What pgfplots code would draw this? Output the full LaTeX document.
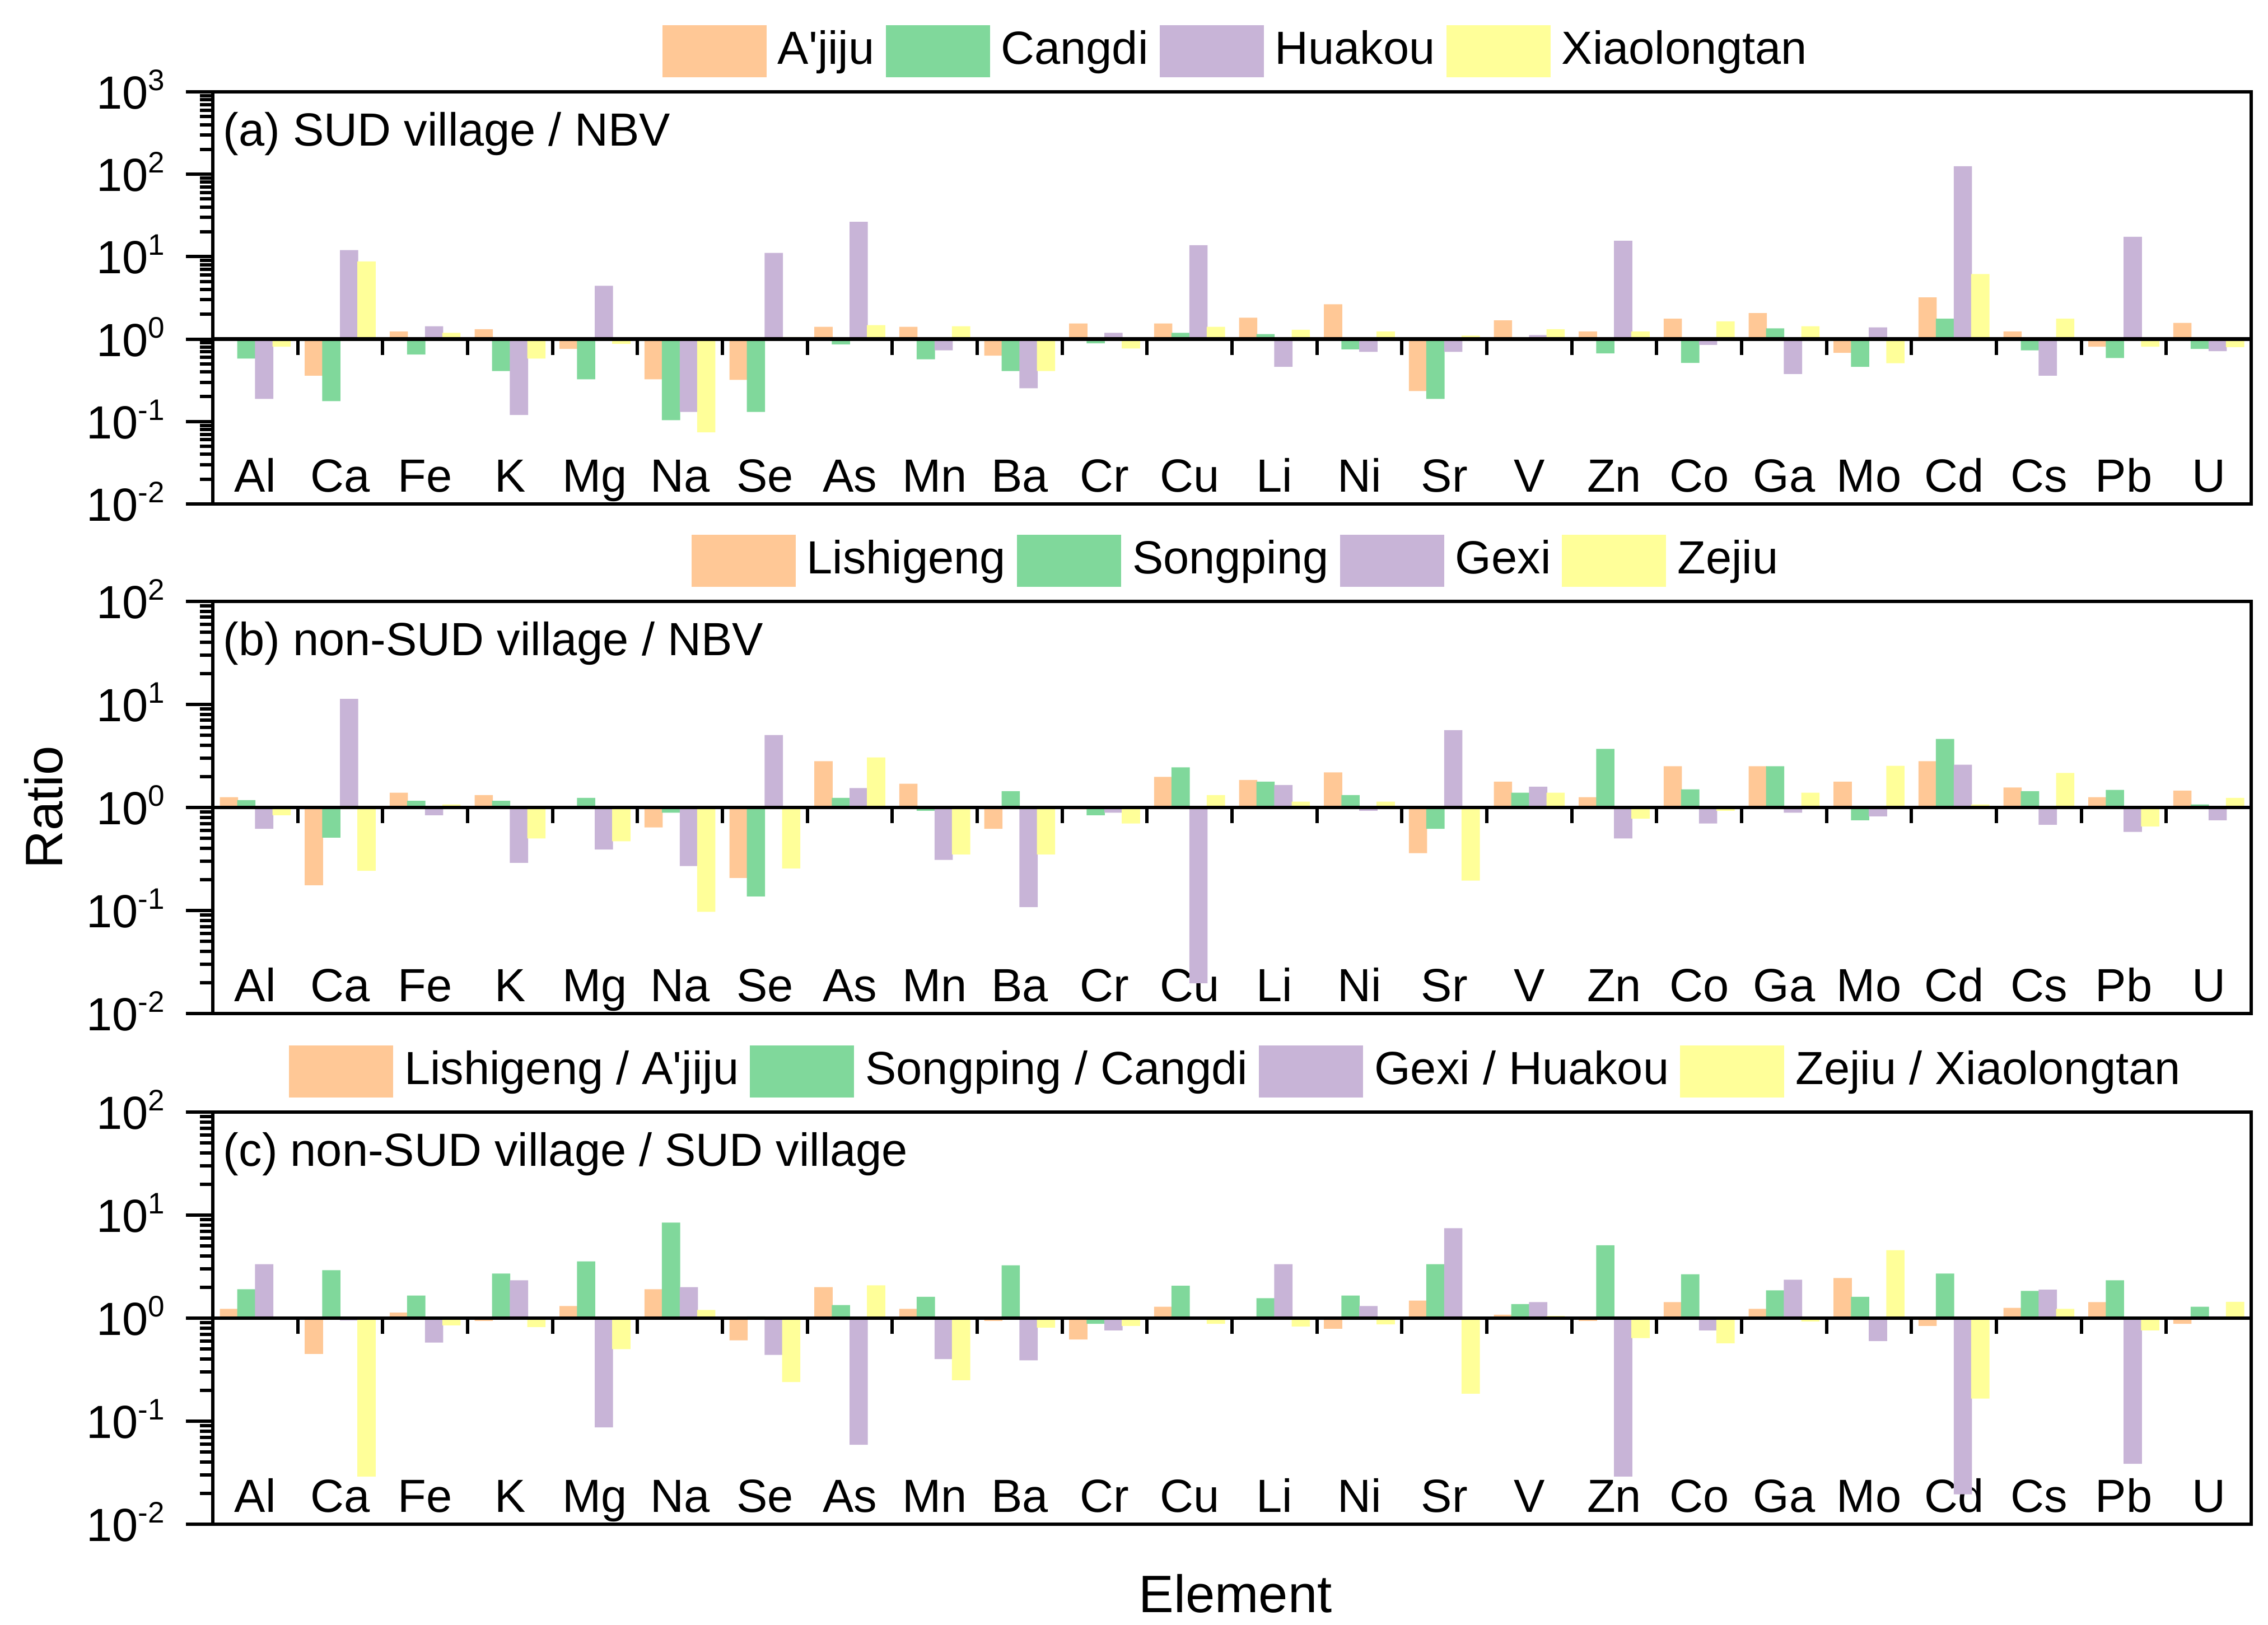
\documentclass[border=0pt]{standalone}
\usepackage{fontspec}
\setmainfont{Liberation Sans}
\usepackage{pgfplots}
\usepackage{pgfplotstable}
\pgfplotsset{compat=1.18}

\definecolor{cO}{HTML}{FFC896}
\definecolor{cG}{HTML}{80D89B}
\definecolor{cP}{HTML}{C8B4D7}
\definecolor{cY}{HTML}{FFFF99}

% columns: index, orange, green, purple, yellow
\pgfplotstableread{
i o g p y
0 1.02 0.58 0.188 0.81
1 0.36 0.177 12.0 8.75
2 1.24 0.65 1.43 1.19
3 1.32 0.41 0.12 0.58
4 0.76 0.325 4.44 0.875
5 0.325 0.104 0.131 0.074
6 0.32 0.131 11.1 1.06
7 1.41 0.86 26.5 1.48
8 1.41 0.57 0.73 1.43
9 0.63 0.41 0.253 0.41
10 1.55 0.89 1.19 0.77
11 1.55 1.19 13.8 1.41
12 1.82 1.15 0.46 1.30
13 2.65 0.75 0.70 1.24
14 0.234 0.188 0.70 1.10
15 1.69 1.0 1.12 1.32
16 1.24 0.67 15.6 1.24
17 1.77 0.515 0.85 1.64
18 2.07 1.35 0.377 1.43
19 0.68 0.46 1.39 0.51
20 3.2 1.77 125 6.16
21 1.24 0.73 0.36 1.77
22 0.81 0.59 17.4 0.81
23 1.57 0.76 0.715 0.80
}\tabA

\pgfplotstableread{
i o g p y
0 1.26 1.18 0.62 0.84
1 0.176 0.51 11.3 0.243
2 1.39 1.16 0.84 1.07
3 1.32 1.16 0.29 0.50
4 1.0 1.24 0.39 0.47
5 0.64 0.89 0.27 0.097
6 0.207 0.137 5.04 0.256
7 2.81 1.24 1.54 3.06
8 1.70 0.93 0.31 0.35
9 0.62 1.44 0.108 0.35
10 0.96 0.84 0.89 0.70
11 1.98 2.45 0.0197 1.32
12 1.85 1.78 1.65 1.14
13 2.19 1.32 0.93 1.14
14 0.36 0.62 5.64 0.195
15 1.78 1.39 1.59 1.39
16 1.26 3.7 0.50 0.78
17 2.51 1.5 0.70 0.93
18 2.51 2.51 0.89 1.39
19 1.78 0.75 0.82 2.54
20 2.81 4.62 2.6 1.07
21 1.56 1.44 0.68 2.16
22 1.26 1.48 0.58 0.655
23 1.46 1.07 0.75 1.24
}\tabB

\pgfplotstableread{
i o g p y
0 1.23 1.91 3.34 1.0
1 0.45 2.92 0.95 0.029
2 1.13 1.66 0.58 0.85
3 0.94 2.71 2.33 0.82
4 1.31 3.56 0.087 0.50
5 1.91 8.45 2.0 1.2
6 0.61 1.04 0.44 0.24
7 2.0 1.34 0.059 2.08
8 1.23 1.61 0.40 0.25
9 0.94 3.26 0.39 0.81
10 0.62 0.88 0.76 0.84
11 1.29 2.06 1.0 0.88
12 1.04 1.56 3.34 0.83
13 0.79 1.66 1.31 0.87
14 1.48 3.34 7.46 0.185
15 1.08 1.37 1.43 1.05
16 0.94 5.1 0.029 0.64
17 1.43 2.67 0.76 0.57
18 1.23 1.86 2.36 0.93
19 2.45 1.61 0.60 4.56
20 0.84 2.71 0.0195 0.166
21 1.26 1.84 1.89 1.23
22 1.43 2.33 0.0386 0.76
23 0.88 1.29 1.04 1.44
}\tabC

\newcommand{\tlab}[1]{10\raisebox{3.3bp}{\fontsize{5.3bp}{6bp}\selectfont #1}}
\newcommand{\fsz}{\fontsize{8.3bp}{10bp}\selectfont}
\newcommand{\swatch}[1]{\fill[fill=#1] (0bp,-4.65bp) rectangle (18.6bp,4.65bp);}

\pgfplotsset{
  mypanel/.style={
    width=364bp, height=73.6bp, scale only axis,
    xmin=-0.5, xmax=23.5, ymin=0.01,
    xtick={0,...,23},
    xticklabels={Al,Ca,Fe,K,Mg,Na,Se,As,Mn,Ba,Cr,Cu,Li,Ni,Sr,V,Zn,Co,Ga,Mo,Cd,Cs,Pb,U},
    x tick style={draw=none},
    xticklabel style={anchor=base, yshift=6.9bp, inner sep=0pt},
    ytick pos=left, tick align=outside,
    major tick length=4.8bp, minor tick length=2.3bp,
    y tick style={black, line width=0.6bp},
    yticklabel style={anchor=base east, inner sep=0pt, yshift=-3.05bp, xshift=-3.6bp},
    axis line style={line width=0.65bp},
    tick label style={font=\fsz},
    legend columns=4,
    legend style={at={(0.5,1)}, anchor=south, yshift=2.4bp, xshift=1.5bp, draw=none, fill=none,
      inner sep=0pt, font=\fsz, nodes={inner xsep=2.0bp, inner ysep=0pt}},
    legend cell align=left,
  },
}

\newcommand{\refline}{%
  \draw[line width=0.65bp] (axis cs:-0.5,1) -- (axis cs:23.5,1);
  \pgfplotsinvokeforeach{0,...,22}{\draw[line width=0.6bp] (axis cs:##1.5,1) -- ([yshift=-2.8bp]axis cs:##1.5,1);}%
}

\begin{document}
\begin{tikzpicture}
\path[use as bounding box] (0,0) rectangle (405bp,290.2bp);

% (a)
\begin{axis}[ymode=log, mypanel, anchor=south west, at={(38bp,200.2bp)}, ymax=1000,
  ytick={0.01,0.1,1,10,100,1000},
  yticklabels={\tlab{-2},\tlab{-1},\tlab{0},\tlab{1},\tlab{2},\tlab{3}},
  minor ytick={0.02,0.03,0.04,0.05,0.06,0.07,0.08,0.09,0.2,0.3,0.4,0.5,0.6,0.7,0.8,0.9,2,3,4,5,6,7,8,9,20,30,40,50,60,70,80,90,200,300,400,500,600,700,800,900}]
\addplot[ybar, bar width=0.215, bar shift=-0.31, draw=none, fill=cO, legend image code/.code={\swatch{cO}}] table[x=i,y=o]{\tabA};
\addlegendentry{A\textquotesingle jiju}
\addplot[ybar, bar width=0.215, bar shift=-0.105, draw=none, fill=cG, legend image code/.code={\swatch{cG}}] table[x=i,y=g]{\tabA};
\addlegendentry{Cangdi}
\addplot[ybar, bar width=0.215, bar shift=0.105, draw=none, fill=cP, legend image code/.code={\swatch{cP}}] table[x=i,y=p]{\tabA};
\addlegendentry{Huakou}
\addplot[ybar, bar width=0.215, bar shift=0.31, draw=none, fill=cY, legend image code/.code={\swatch{cY}}] table[x=i,y=y]{\tabA};
\addlegendentry{Xiaolongtan}
\refline
\node[anchor=base west, inner sep=0pt, font=\fsz] at ([xshift=1.7bp, yshift=-9.7bp]rel axis cs:0,1) {(a) SUD village / NBV};
\end{axis}

% (b)
\begin{axis}[ymode=log, mypanel, anchor=south west, at={(38bp,109.2bp)}, ymax=100,
  ytick={0.01,0.1,1,10,100},
  yticklabels={\tlab{-2},\tlab{-1},\tlab{0},\tlab{1},\tlab{2}},
  minor ytick={0.02,0.03,0.04,0.05,0.06,0.07,0.08,0.09,0.2,0.3,0.4,0.5,0.6,0.7,0.8,0.9,2,3,4,5,6,7,8,9,20,30,40,50,60,70,80,90}]
\addplot[ybar, bar width=0.215, bar shift=-0.31, draw=none, fill=cO, legend image code/.code={\swatch{cO}}] table[x=i,y=o]{\tabB};
\addlegendentry{Lishigeng}
\addplot[ybar, bar width=0.215, bar shift=-0.105, draw=none, fill=cG, legend image code/.code={\swatch{cG}}] table[x=i,y=g]{\tabB};
\addlegendentry{Songping}
\addplot[ybar, bar width=0.215, bar shift=0.105, draw=none, fill=cP, legend image code/.code={\swatch{cP}}] table[x=i,y=p]{\tabB};
\addlegendentry{Gexi}
\addplot[ybar, bar width=0.215, bar shift=0.31, draw=none, fill=cY, legend image code/.code={\swatch{cY}}] table[x=i,y=y]{\tabB};
\addlegendentry{Zejiu}
\refline
\node[anchor=base west, inner sep=0pt, font=\fsz] at ([xshift=1.7bp, yshift=-9.7bp]rel axis cs:0,1) {(b) non-SUD village / NBV};
\end{axis}

% (c)
\begin{axis}[ymode=log, mypanel, anchor=south west, at={(38bp,18bp)}, ymax=100,
  ytick={0.01,0.1,1,10,100},
  yticklabels={\tlab{-2},\tlab{-1},\tlab{0},\tlab{1},\tlab{2}},
  minor ytick={0.02,0.03,0.04,0.05,0.06,0.07,0.08,0.09,0.2,0.3,0.4,0.5,0.6,0.7,0.8,0.9,2,3,4,5,6,7,8,9,20,30,40,50,60,70,80,90}]
\addplot[ybar, bar width=0.215, bar shift=-0.31, draw=none, fill=cO, legend image code/.code={\swatch{cO}}] table[x=i,y=o]{\tabC};
\addlegendentry{Lishigeng / A\textquotesingle jiju}
\addplot[ybar, bar width=0.215, bar shift=-0.105, draw=none, fill=cG, legend image code/.code={\swatch{cG}}] table[x=i,y=g]{\tabC};
\addlegendentry{Songping / Cangdi}
\addplot[ybar, bar width=0.215, bar shift=0.105, draw=none, fill=cP, legend image code/.code={\swatch{cP}}] table[x=i,y=p]{\tabC};
\addlegendentry{Gexi / Huakou}
\addplot[ybar, bar width=0.215, bar shift=0.31, draw=none, fill=cY, legend image code/.code={\swatch{cY}}] table[x=i,y=y]{\tabC};
\addlegendentry{Zejiu / Xiaolongtan}
\refline
\node[anchor=base west, inner sep=0pt, font=\fsz] at ([xshift=1.7bp, yshift=-9.7bp]rel axis cs:0,1) {(c) non-SUD village / SUD village};
\end{axis}

\node[rotate=90, font=\fontsize{9.4bp}{11bp}\selectfont] at (7.8bp,146bp) {Ratio};
\node[anchor=base, font=\fontsize{9.4bp}{11bp}\selectfont] at (220.6bp,2.3bp) {Element};
\end{tikzpicture}
\end{document}
